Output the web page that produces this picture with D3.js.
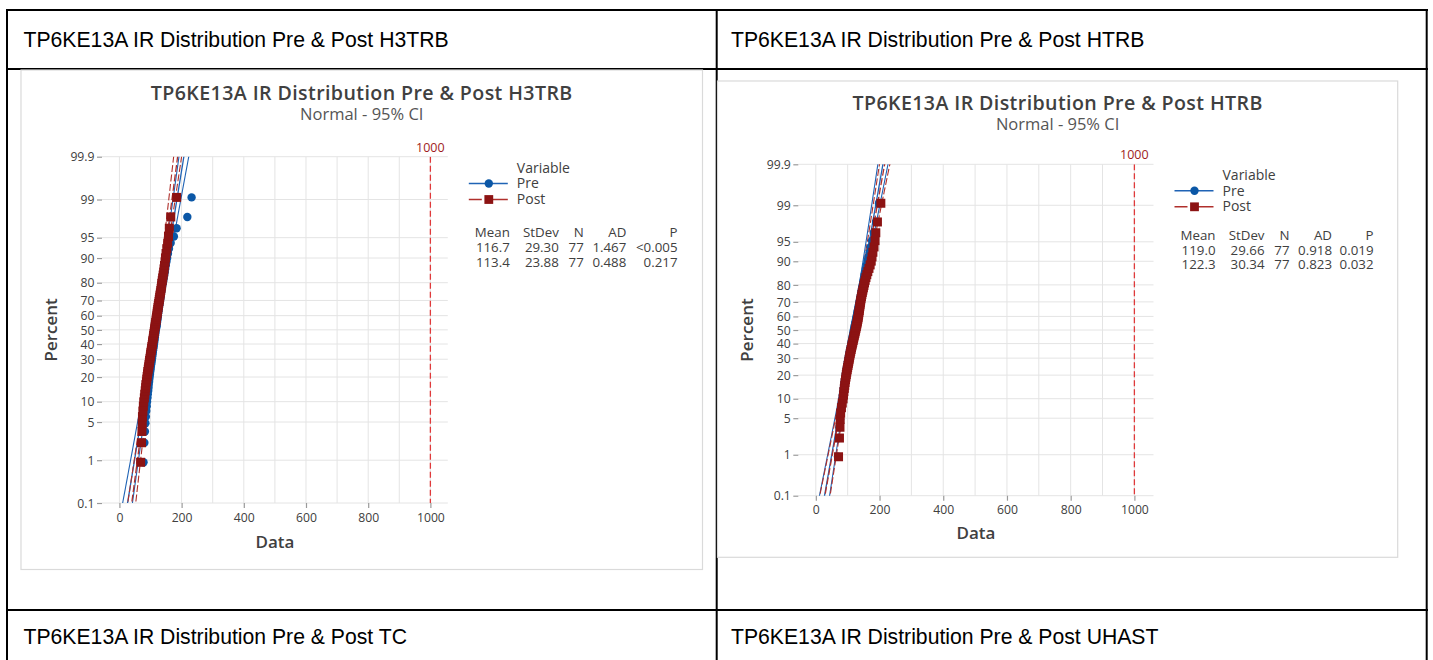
<!DOCTYPE html>
<html>
<head>
<meta charset="utf-8">
<script src="https://cdn.jsdelivr.net/npm/d3@7"></script>
<style>
  body { margin: 0; background: #fff; }
  text { font-family: "Open Sans", "Noto Sans", sans-serif; }
  .cell { font-family: "Liberation Sans", Arial, sans-serif; }
</style>
</head>
<body>
<svg id="page" width="1433" height="660"></svg>
<script>
// ---- data ----
const cellTitles = [
  "TP6KE13A IR Distribution Pre & Post H3TRB",
  "TP6KE13A IR Distribution Pre & Post HTRB",
  "TP6KE13A IR Distribution Pre & Post TC",
  "TP6KE13A IR Distribution Pre & Post UHAST"
]
const seriesNames = ["Pre", "Post"]
const probTicks = [0.1, 1, 5, 10, 20, 30, 40, 50, 60, 70, 80, 90, 95, 99, 99.9]
const probLabels = ["0.1", "1", "5", "10", "20", "30", "40", "50", "60", "70", "80", "90", "95", "99", "99.9"]
const dataTicks = [0, 200, 400, 600, 800, 1000]
const gridTicks = [0, 100, 200, 300, 400, 500, 600, 700, 800, 900, 1000]
const refValue = 1000

const h3trbPre = [
  77.5, 80.2, 82.0, 83.6, 85.1, 86.4, 87.9, 89.0, 90.3, 91.2,
  92.6, 93.5, 94.1, 95.4, 96.2, 97.0, 98.3, 99.1, 100.0, 101.2,
  102.0, 103.1, 103.9, 104.8, 105.5, 106.4, 107.2, 108.1, 109.0, 110.0,
  110.9, 111.6, 112.4, 113.0, 113.8, 114.5, 115.3, 116.0, 116.8, 118.2,
  119.5, 120.1, 120.8, 121.6, 122.3, 123.0, 123.9, 124.5, 125.3, 126.1,
  127.0, 128.1, 129.0, 130.2, 131.0, 132.3, 133.1, 134.0, 135.2, 136.5,
  137.8, 139.5, 141.0, 142.6, 144.1, 145.9, 147.3, 149.0, 151.2, 153.5,
  156.0, 159.4, 164.8, 175.2, 183.9, 218.4, 232.1
]
const h3trbPost = [
  68.2, 71.0, 72.5, 73.4, 74.1, 75.6, 77.0, 78.3, 80.2, 81.5,
  83.0, 84.4, 85.1, 86.9, 88.0, 89.2, 90.5, 91.3, 92.8, 94.0,
  95.1, 96.3, 97.0, 98.4, 99.6, 100.5, 101.2, 102.7, 103.5, 104.4,
  105.8, 106.5, 107.1, 108.6, 109.4, 110.0, 111.3, 112.1, 113.0, 113.8,
  114.9, 115.6, 116.4, 117.9, 118.5, 119.2, 120.6, 121.4, 122.0, 123.3,
  124.1, 125.0, 126.2, 127.5, 128.3, 129.6, 130.4, 131.8, 133.0, 134.2,
  135.5, 136.1, 137.8, 139.0, 140.6, 142.3, 143.5, 145.0, 146.8, 148.1,
  150.0, 152.4, 155.3, 157.8, 160.5, 165.1, 184.0
]
const htrbPre = [
  69.5, 72.8, 74.0, 76.2, 78.5, 80.1, 81.7, 83.4, 84.6, 86.0,
  87.3, 88.9, 90.2, 91.0, 92.6, 93.8, 95.1, 96.4, 97.2, 98.7,
  99.9, 101.0, 102.3, 103.5, 104.2, 105.6, 106.8, 107.5, 108.9, 110.1,
  111.4, 112.0, 113.6, 114.3, 115.7, 116.5, 117.8, 118.6, 119.4, 120.7,
  121.5, 122.8, 123.9, 125.0, 126.4, 127.1, 128.5, 129.8, 130.6, 131.9,
  133.2, 134.0, 135.4, 136.6, 137.9, 139.3, 140.5, 141.8, 143.1, 144.0,
  145.6, 147.2, 148.5, 150.1, 151.8, 153.0, 155.4, 157.2, 159.6, 162.0,
  165.3, 168.7, 172.1, 176.5, 181.8, 188.9, 198.2
]
const htrbPost = [
  71.3, 74.2, 75.8, 76.5, 77.9, 80.4, 83.0, 85.6, 86.8, 88.1,
  89.5, 90.7, 91.9, 93.2, 94.6, 95.8, 97.0, 98.5, 99.8, 101.1,
  102.4, 103.6, 104.8, 105.9, 107.0, 108.3, 109.5, 110.8, 112.0, 113.4,
  114.6, 115.9, 117.2, 118.5, 119.7, 121.0, 122.3, 123.5, 124.8, 126.0,
  127.1, 128.4, 129.6, 130.5, 131.7, 132.8, 133.6, 134.5, 135.4, 136.3,
  137.1, 138.0, 138.9, 139.8, 140.7, 141.9, 143.2, 144.5, 146.0, 147.6,
  149.3, 151.0, 152.8, 154.9, 157.3, 160.0, 163.2, 166.8, 170.5, 173.9,
  176.4, 179.1, 182.7, 185.9, 188.3, 193.4, 204.1
]

const h3trbMean = [116.7, 113.4]
const h3trbStDev = [29.30, 23.88]
const h3trbN = [77, 77]
const h3trbAD = [1.467, 0.488]
const h3trbP = ["<0.005", "0.217"]

const htrbMean = [119.0, 122.3]
const htrbStDev = [29.66, 30.34]
const htrbN = [77, 77]
const htrbAD = [0.918, 0.823]
const htrbP = ["0.019", "0.032"]

// ---- helpers ----
// inverse normal cdf (Acklam)
const qnorm = p => {
  const a = [-3.969683028665376e+01, 2.209460984245205e+02, -2.759285104469687e+02, 1.383577518672690e+02, -3.066479806614716e+01, 2.506628277459239e+00]
  const b = [-5.447609879822406e+01, 1.615858368580409e+02, -1.556989798598866e+02, 6.680131188771972e+01, -1.328068155288572e+01]
  const c = [-7.784894002430293e-03, -3.223964580411365e-01, -2.400758277161838e+00, -2.549732539343734e+00, 4.374664141464968e+00, 2.938163982698783e+00]
  const d = [7.784695709041462e-03, 3.224671290700398e-01, 2.445134137142996e+00, 3.754408661907416e+00]
  const lo = 0.02425
  let q, r
  if (p < lo) {
    q = Math.sqrt(-2 * Math.log(p))
    return (((((c[0]*q+c[1])*q+c[2])*q+c[3])*q+c[4])*q+c[5]) / ((((d[0]*q+d[1])*q+d[2])*q+d[3])*q+1)
  }
  if (p <= 1 - lo) {
    q = p - 0.5; r = q * q
    return (((((a[0]*r+a[1])*r+a[2])*r+a[3])*r+a[4])*r+a[5])*q / (((((b[0]*r+b[1])*r+b[2])*r+b[3])*r+b[4])*r+1)
  }
  q = Math.sqrt(-2 * Math.log(1 - p))
  return -(((((c[0]*q+c[1])*q+c[2])*q+c[3])*q+c[4])*q+c[5]) / ((((d[0]*q+d[1])*q+d[2])*q+d[3])*q+1)
}

const preBlue = "#0b57a6"
const preLine = "#1f63b5"
const postRed = "#8c1313"
const postLine = "#b0302c"
const refRed = "#e0393a"
const ink = "#404040"

const svg = d3.select("#page")

// ---- word table around the charts ----
const table = svg.append("g").attr("stroke", "#000").attr("stroke-width", 2)
;[10, 69, 610].forEach(yy => table.append("line").attr("x1", 6).attr("x2", 1428).attr("y1", yy).attr("y2", yy))
;[7, 716.7, 1426.7].forEach(xx => table.append("line").attr("x1", xx).attr("x2", xx).attr("y1", 9).attr("y2", 660))

const cellPos = [[23.5, 47], [731, 47], [23.5, 644], [731, 644]]
svg.append("g").selectAll("text").data(cellTitles).join("text")
    .attr("class", "cell")
    .attr("x", (d, i) => cellPos[i][0])
    .attr("y", (d, i) => cellPos[i][1])
    .attr("font-size", 21.2)
    .attr("fill", "#000")
    .text(d => d)

// ---- probability plots ----
const charts = [
  { id: "c1", title: cellTitles[0], pre: h3trbPre, post: h3trbPost, mean: h3trbMean, sd: h3trbStDev, n: h3trbN, ad: h3trbAD, p: h3trbP,
    box: [21, 70, 702.5, 569.5], plot: [102, 156.7, 447.8, 503], xDomain: [-56, 1056],
    titleY: 100, subY: 119.5, dataY: 548, percentX: 57, legendY: 172.7, statsY: 237.3, pCol: 677.5 },
  { id: "c2", title: cellTitles[1], pre: htrbPre, post: htrbPost, mean: htrbMean, sd: htrbStDev, n: htrbN, ad: htrbAD, p: htrbP,
    box: [717.5, 81, 1397.7, 557.3], plot: [798.3, 164.3, 1153.5, 495.7], xDomain: [-55, 1060],
    titleY: 110.3, subY: 129.5, dataY: 539, percentX: 752.5, legendY: 180, statsY: 240, pCol: 1373.5 }
]

const drawChart = cfg => {
  const g = svg.append("g")
  const [bx0, by0, bx1, by1] = cfg.box
  const [x0, y0, x1, y1] = cfg.plot
  g.append("rect")
      .attr("x", bx0).attr("y", by0).attr("width", bx1 - bx0).attr("height", by1 - by0)
      .attr("fill", "#fff").attr("stroke", "#dadada").attr("stroke-width", 1.2)

  const x = d3.scaleLinear().domain(cfg.xDomain).range([x0, x1])
  const zTop = qnorm(0.999)
  const y = d3.scaleLinear().domain([-zTop, zTop]).range([y1, y0])

  // titles
  const cx = (bx0 + bx1) / 2
  g.append("text").attr("x", cx).attr("y", cfg.titleY).attr("text-anchor", "middle")
      .attr("font-size", 19.6).attr("font-weight", 600).attr("fill", ink).attr("letter-spacing", 0.4)
      .text(cfg.title)
  g.append("text").attr("x", cx).attr("y", cfg.subY).attr("text-anchor", "middle")
      .attr("font-size", 16.5).attr("fill", "#555").text("Normal - 95% CI")

  // gridlines
  g.append("g").attr("stroke", "#e4e4e4").attr("stroke-width", 1)
    .selectAll("line").data(gridTicks).join("line")
      .attr("x1", d => x(d)).attr("x2", d => x(d)).attr("y1", y0).attr("y2", y1)
  g.append("g").attr("stroke", "#e4e4e4").attr("stroke-width", 1)
    .selectAll("line").data(probTicks).join("line")
      .attr("x1", x0).attr("x2", x1).attr("y1", d => y(qnorm(d / 100))).attr("y2", d => y(qnorm(d / 100)))

  // axes
  const yAxis = d3.axisLeft(y)
      .tickValues(probTicks.map(d => qnorm(d / 100)))
      .tickFormat((d, i) => probLabels[i])
      .tickSize(5).tickPadding(2.5)
  const ya = g.append("g").attr("transform", `translate(${x0},0)`).call(yAxis)
  const xAxis = d3.axisBottom(x).tickValues(dataTicks).tickFormat(d3.format("d")).tickSize(5).tickPadding(5)
  const xa = g.append("g").attr("transform", `translate(0,${y1})`).call(xAxis)
  ;[ya, xa].forEach(a => {
    a.select(".domain").remove()
    a.selectAll(".tick line").attr("stroke", "#9a9a9a").attr("stroke-width", 1.2)
    a.selectAll(".tick text").attr("font-size", 12.2).attr("fill", ink)
        .style("font-family", '"Open Sans", sans-serif')
  })
  ya.selectAll(".tick text").attr("dy", "0.34em")

  g.append("text").attr("x", (x0 + x1) / 2).attr("y", cfg.dataY).attr("text-anchor", "middle")
      .attr("font-size", 17).attr("font-weight", 600).attr("fill", ink).text("Data")
  g.append("text").attr("transform", `translate(${cfg.percentX},${(y0 + y1) / 2}) rotate(-90)`)
      .attr("text-anchor", "middle")
      .attr("font-size", 17).attr("font-weight", 600).attr("fill", ink).text("Percent")

  // clip region
  g.append("clipPath").attr("id", cfg.id + "clip")
    .append("rect").attr("x", x0).attr("y", y0).attr("width", x1 - x0).attr("height", y1 - y0)
  const inner = g.append("g").attr("clip-path", `url(#${cfg.id}clip)`)

  // reference line
  inner.append("line").attr("x1", x(refValue)).attr("x2", x(refValue)).attr("y1", y0).attr("y2", y1)
      .attr("stroke", refRed).attr("stroke-width", 1.3).attr("stroke-dasharray", "6,3")
  g.append("text").attr("x", x(refValue)).attr("y", y0 - 5).attr("text-anchor", "middle")
      .attr("font-size", 12.5).attr("fill", "#a01c1c").text(refValue)

  // fitted lines with 95% confidence bands
  const zs = d3.range(-3.4, 3.41, 0.05)
  const styles = [
    { color: preLine, dash: null },
    { color: postLine, dash: "7,2.5" }
  ]
  seriesNames.forEach((name, s) => {
    const m = cfg.mean[s], sd = cfg.sd[s], n = cfg.n[s]
    const half = z => 1.96 * sd * Math.sqrt(1 / n + z * z / (2 * n))
    const curves = [
      zs.map(z => [m + z * sd, z]),
      zs.map(z => [m + z * sd - half(z), z]),
      zs.map(z => [m + z * sd + half(z), z])
    ]
    const line = d3.line().x(d => x(d[0])).y(d => y(d[1]))
    inner.append("g").selectAll("path").data(curves).join("path")
        .attr("d", line)
        .attr("fill", "none")
        .attr("stroke", styles[s].color)
        .attr("stroke-width", (d, i) => i === 0 ? 1.3 : 1.1)
        .attr("stroke-dasharray", styles[s].dash)
  })

  // points at median-rank plotting positions
  const rankZ = (i, n) => qnorm((i + 1 - 0.3) / (n + 0.4))
  inner.append("g").selectAll("circle").data(cfg.pre).join("circle")
      .attr("cx", d => x(d))
      .attr("cy", (d, i) => y(rankZ(i, cfg.pre.length)))
      .attr("r", 4.2)
      .attr("fill", preBlue)
  const sq = 9
  inner.append("g").selectAll("rect").data(cfg.post).join("rect")
      .attr("x", d => x(d) - sq / 2)
      .attr("y", (d, i) => y(rankZ(i, cfg.post.length)) - sq / 2)
      .attr("width", sq).attr("height", sq)
      .attr("fill", postRed)

  // legend
  const lx = x1 + 21
  const lg = g.append("g").attr("font-size", 14).attr("fill", ink)
  lg.append("text").attr("x", x1 + 69).attr("y", cfg.legendY).text("Variable")
  seriesNames.forEach((name, s) => {
    const ly = cfg.legendY + (s === 0 ? 10.8 : 26.8)
    lg.append("line").attr("x1", lx).attr("x2", lx + 39).attr("y1", ly).attr("y2", ly)
        .attr("stroke", styles[s].color).attr("stroke-width", 1.5)
        .attr("stroke-dasharray", s === 0 ? null : "13,6,20")
    if (s === 0) {
      lg.append("circle").attr("cx", lx + 20).attr("cy", ly).attr("r", 4.2).attr("fill", preBlue)
    } else {
      lg.append("rect").attr("x", lx + 20 - 4.4).attr("y", ly - 4.4).attr("width", 8.8).attr("height", 8.8).attr("fill", postRed)
    }
    lg.append("text").attr("x", x1 + 69).attr("y", cfg.legendY + (s === 0 ? 15.6 : 31.3)).text(name)
  })

  // statistics table
  const cols = [x1 + 62, x1 + 111, x1 + 136, x1 + 178.5, cfg.pCol]
  const header = ["Mean", "StDev", "N", "AD", "P"]
  const st = g.append("g").attr("font-size", 13.3).attr("fill", ink).attr("text-anchor", "end")
  header.forEach((h, j) => st.append("text").attr("x", cols[j]).attr("y", cfg.statsY).text(h))
  seriesNames.forEach((name, s) => {
    const row = [d3.format(".1f")(cfg.mean[s]), d3.format(".2f")(cfg.sd[s]), cfg.n[s], d3.format(".3f")(cfg.ad[s]), cfg.p[s]]
    row.forEach((v, j) => st.append("text").attr("x", cols[j]).attr("y", cfg.statsY + 14.7 * (s + 1)).text(v))
  })
}

charts.forEach(drawChart)
</script>
</body>
</html>
